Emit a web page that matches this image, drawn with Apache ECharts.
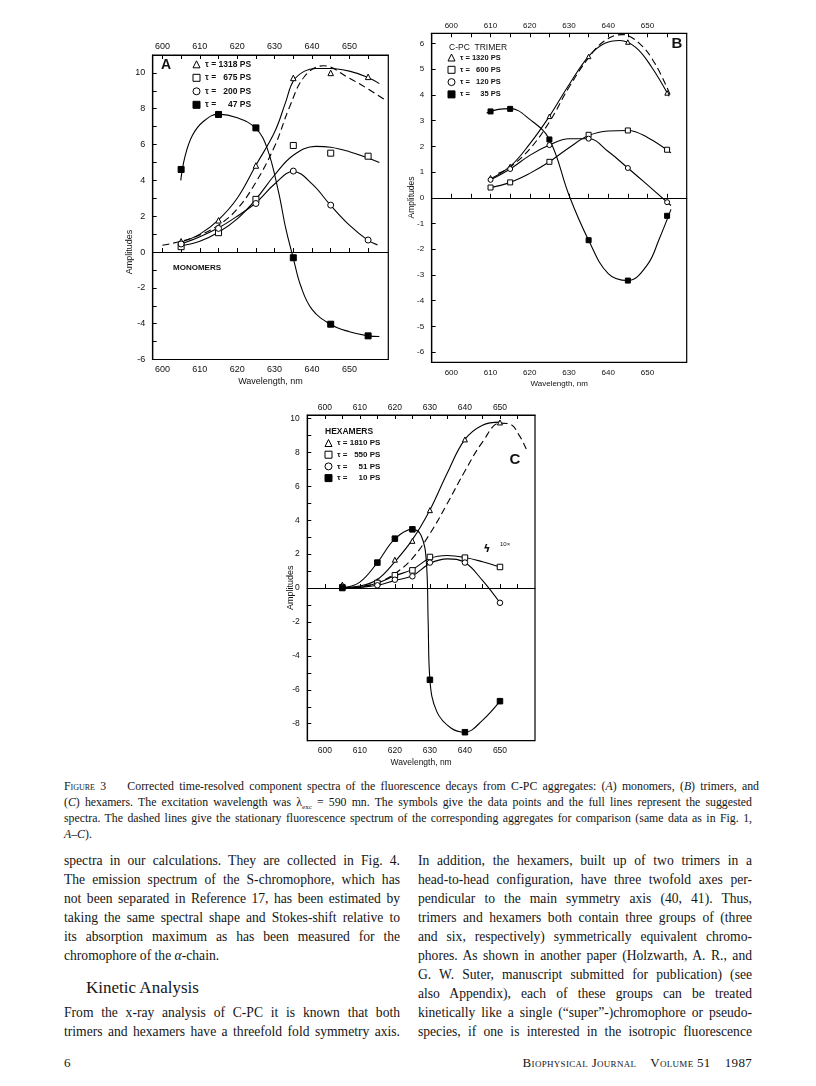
<!DOCTYPE html>
<html><head><meta charset="utf-8">
<script src="https://cdn.jsdelivr.net/npm/echarts@6/dist/echarts.min.js"></script>
<style>
html,body{margin:0;padding:0;background:#fff;}
#page{position:relative;width:816px;height:1086px;overflow:hidden;background:#fff;}
#chart{position:absolute;left:0;top:0;width:816px;height:775px;}
.ln{position:absolute;white-space:nowrap;font-family:"Liberation Serif","Times New Roman",serif;color:#151515;}
.ln span{display:inline-block;}
.sc{font-variant:small-caps;}
</style></head><body>
<div id="page"><div id="chart"></div></div>
<script>
// ---------- DATA ----------
const xLabelVals = [600, 610, 620, 630, 640, 650];
const xTickVals = [600, 605, 610, 615, 620, 625, 630, 635, 640, 645, 650, 655];

// Panel A (monomers)
const aX = [605, 615, 625, 635, 645, 655];
const aTau1318 = [0.6, 1.77, 4.83, 9.72, 10.0, 9.78];
const aTau675 = [0.3, 1.08, 2.94, 5.95, 5.52, 5.35];
const aTau200 = [0.45, 1.32, 2.71, 4.52, 2.62, 0.67];
const aTau47 = [4.61, 7.68, 6.93, -0.32, -4.03, -4.68];
const aFit1318 = [[605,0.55],[610,1.0],[615,1.8],[620,3.0],[625,4.85],[630,6.7],[633,8.4],[635,9.55],[638,10.1],[641,10.25],[645,10.25],[650,10.1],[655,9.75],[658,9.4]];
const aFit675 = [[605,0.35],[610,0.6],[615,1.1],[620,1.85],[625,2.95],[630,4.3],[635,5.4],[641,5.9],[645,5.85],[650,5.6],[655,5.25],[658,5.0]];
const aFit200 = [[605,0.45],[610,0.85],[615,1.35],[620,2.0],[625,2.75],[630,3.8],[635,4.5],[640,3.8],[645,2.6],[650,1.5],[655,0.65],[657.5,0.4]];
const aFit47 = [[604.9,4.0],[606,5.3],[608,6.5],[611,7.3],[615,7.7],[620,7.5],[625,6.9],[628,5.8],[631,3.4],[633,1.3],[635,-0.35],[637,-1.9],[640,-3.2],[645,-4.05],[650,-4.45],[655,-4.68],[658,-4.72]];
const aStationary = [[600,0.38],[605,0.6],[610,0.95],[615,1.5],[620,2.4],[625,3.9],[630,5.9],[634,8.1],[638,9.8],[643,10.4],[650,9.7],[655,9.1],[659.5,8.5]];

// Panel B (trimers)
const bX = [610, 615, 625, 635, 645, 655];
const bTau1320 = [0.78, 1.22, 3.17, 5.5, 6.06, 4.08];
const bTau600 = [0.4, 0.6, 1.4, 2.45, 2.62, 1.87];
const bTau120 = [0.7, 1.12, 2.05, 2.3, 1.16, -0.17];
const bTau35 = [3.36, 3.46, 2.27, -1.65, -3.22, -0.7];
const bFit1320 = [[609.5,0.7],[615,1.22],[620,2.1],[625,3.17],[630,4.4],[635,5.5],[639,6.0],[643,6.12],[647,5.85],[651,5.1],[655.5,3.95]];
const bFit600 = [[609.5,0.38],[615,0.6],[620,0.95],[625,1.4],[630,1.95],[635,2.42],[640,2.6],[645,2.62],[650,2.35],[656,1.75]];
const bFit120 = [[609.5,0.66],[615,1.12],[620,1.65],[625,2.05],[630,2.3],[635,2.3],[640,1.8],[645,1.16],[650,0.5],[656,-0.3]];
const bFit35 = [[609,3.3],[612,3.44],[615,3.47],[620,3.05],[625,2.27],[630,0.1],[635,-1.65],[640,-2.95],[645,-3.22],[650,-2.6],[653,-1.6],[656,-0.45]];
const bStationary = [[612,0.95],[615,1.2],[620,1.9],[625,2.95],[630,4.3],[635,5.45],[639,6.1],[643.5,6.35],[648,6.0],[652,5.2],[655.8,4.0]];

// Panel C (hexamers)
const cX = [605, 615, 620, 625, 630, 640, 650];
const cTau1810 = [0.2, 0.4, 1.67, 2.78, 4.59, 8.76, 9.76];
const cTau550 = [0.05, 0.3, 0.75, 1.04, 1.83, 1.79, 1.24];
const cTau51 = [0.06, 0.16, 0.49, 0.69, 1.5, 1.5, -0.87];
const cTau10 = [0.0, 1.5, 2.91, 3.46, -5.41, -8.5, -6.67];
const cFit1810 = [[605,0.05],[610,0.12],[615,0.5],[620,1.55],[625,2.85],[630,4.6],[635,6.8],[640,8.76],[645,9.6],[650,9.78]];
const cFit550 = [[605,0.0],[610,0.05],[615,0.3],[620,0.72],[625,1.1],[630,1.75],[635,1.92],[640,1.8],[645,1.55],[650,1.24]];
const cFit51 = [[605,0.0],[610,0.04],[615,0.16],[620,0.45],[625,0.72],[630,1.45],[635,1.72],[640,1.5],[645,0.45],[650,-0.87]];
const cFit10 = [[605,0.0],[610,0.35],[615,1.5],[620,2.9],[625,3.46],[627.5,3.1],[629,1.5],[629.5,-2.0],[630,-5.41],[632,-7.3],[636,-8.25],[640,-8.5],[645,-7.8],[650,-6.67]];
const cStationary = [[605,0.0],[610,0.08],[615,0.3],[620,0.85],[625,1.75],[630,3.2],[635,5.0],[640,6.9],[645,8.6],[650,9.72],[653,9.65],[655.5,9.0],[657.5,8.2]];

const aLegend = ['τ = 1318 PS', 'τ =   675 PS', 'τ =   200 PS', 'τ =     47 PS'];
const bLegend = ['τ = 1320 PS', 'τ =   600 PS', 'τ =   120 PS', 'τ =     35 PS'];
const cLegend = ['τ = 1810 PS', 'τ =   550 PS', 'τ =     51 PS', 'τ =     10 PS'];

// ---------- CHART ----------
const FF = '"Liberation Sans", Arial, sans-serif';
const INK = '#111';
function range(a, b, s) { const r = []; for (let v = a; v <= b + 1e-9; v += s) r.push(+v.toFixed(3)); return r; }
function zip(xs, ys) { return xs.map((x, i) => [x, ys[i]]); }

const panels = [
  { grid: {left:152.7, top:55, width:235.6, height:304.5}, xmin:597.4, xmax:660.4, ymin:-6, ymax:11,
    yLabels: range(-6,10,2), yTicks: range(-6,10,1), fs:9, botMargin:6, topMargin:4, nameGap:18,
    pts: [aTau1318, aTau675, aTau200, aTau47], px: aX, fits: [aFit1318, aFit675, aFit200, aFit47], stat: aStationary,
    legend: aLegend, sym: 6, legendPos:{left:192.5, top:59.8}, legendGap:4.5 },
  { grid: {left:431.7, top:33.3, width:255, height:329}, xmin:595, xmax:660, ymin:-6.4, ymax:6.4,
    yLabels: range(-6,6,1), yTicks: range(-6,6,1), fs:8, botMargin:6, topMargin:4, nameGap:17,
    pts: [bTau1320, bTau600, bTau120, bTau35], px: bX, fits: [bFit1320, bFit600, bFit120, bFit35], stat: bStationary,
    legend: bLegend, sym: 5, legendPos:{left:447.5, top:53}, legendGap:3.3 },
  { grid: {left:307.3, top:415, width:227.7, height:325.7}, xmin:595, xmax:660, ymin:-9, ymax:10.2,
    yLabels: range(-8,10,2), yTicks: range(-9,10,1), fs:8.5, botMargin:5.5, topMargin:2.5, nameGap:17.5,
    pts: [cTau1810, cTau550, cTau51, cTau10], px: cX, fits: [cFit1810, cFit550, cFit51, cFit10], stat: cStationary,
    legend: cLegend, sym: 5.5, legendPos:{left:324.5, top:438.5}, legendGap:2.7 }
];

const symbols = ['triangle', 'rect', 'circle', 'rect'];
const fills = ['#fff', '#fff', '#fff', '#000'];

const option = { animation:false, backgroundColor:'#fff', grid:[], xAxis:[], yAxis:[], series:[], legend:[], graphic:[] };

panels.forEach((p, i) => {
  option.grid.push(Object.assign({ show:true, borderColor:'#000', borderWidth:1.2, backgroundColor:'transparent', containLabel:false }, p.grid));
  const axLine = { show:true, lineStyle:{ color:'#000', width:1.2 } };
  const tick = { show:true, inside:true, length:4, customValues:xTickVals, lineStyle:{ color:'#000', width:1 } };
  const lab = (m) => ({ show:true, customValues:xLabelVals, margin:m, fontSize:p.fs, color:INK, fontFamily:FF });
  option.xAxis.push({ gridIndex:i, type:'value', position:'bottom', min:p.xmin, max:p.xmax,
    axisLine:axLine, axisTick:tick, axisLabel:lab(p.botMargin), splitLine:{show:false},
    name:'Wavelength, nm', nameLocation:'middle', nameGap:p.nameGap, nameTextStyle:{ fontSize:p.fs, color:INK, fontFamily:FF } });
  option.xAxis.push({ gridIndex:i, type:'value', position:'top', min:p.xmin, max:p.xmax,
    axisLine:axLine, axisTick:tick, axisLabel:lab(p.topMargin), splitLine:{show:false} });
  option.yAxis.push({ gridIndex:i, type:'value', min:p.ymin, max:p.ymax,
    axisLine:axLine, axisTick:{ show:true, inside:true, length:4, customValues:p.yTicks, lineStyle:{ color:'#000' } },
    axisLabel:{ show:true, customValues:p.yLabels, margin:7.5, fontSize:p.fs, color:INK, fontFamily:FF },
    splitLine:{show:false} });
  const xi = i * 2, yi = i;
  // fitted curves
  p.fits.forEach((f, k) => {
    const s = { type:'line', xAxisIndex:xi, yAxisIndex:yi, data:f, showSymbol:false, smooth:0.4,
      lineStyle:{ color:'#000', width:1.1 }, silent:true, z:2 };
    if (k === 0) s.markLine = { silent:true, symbol:'none', label:{show:false}, lineStyle:{ color:'#000', width:1.1, type:'solid' }, data:[{ yAxis:0 }] };
    option.series.push(s);
  });
  // stationary spectrum (dashed)
  option.series.push({ type:'line', xAxisIndex:xi, yAxisIndex:yi, data:p.stat, showSymbol:false, smooth:0.4,
    lineStyle:{ color:'#000', width:1.1, type:[7,4] }, silent:true, z:2 });
  // data points
  p.pts.forEach((ys, k) => {
    option.series.push({ type:'scatter', name:p.legend[k], xAxisIndex:xi, yAxisIndex:yi, data:zip(p.px, ys),
      symbol:symbols[k], symbolSize: k === 0 ? p.sym - 0.5 : p.sym,
      itemStyle:{ color:fills[k], borderColor:'#000', borderWidth:1, opacity:1 }, z:3 });
  });
  option.legend.push(Object.assign({ orient:'vertical', padding:0, itemWidth:7, itemHeight:7, itemGap:p.legendGap,
    selectedMode:false, textStyle:{ fontSize:p.fs - 0.5, fontWeight:'bold', lineHeight:9, color:INK, fontFamily:FF },
    data:p.legend.map((n, k) => ({ name:n, icon:symbols[k],
      itemStyle:{ color:fills[k], borderColor:'#000', borderWidth:1 } })) }, p.legendPos));
});

function txt(x, y, text, size, opts) {
  return Object.assign({ type:'text', x:x, y:y, silent:true,
    style:Object.assign({ text:text, fill:INK, font:size, align:'left', verticalAlign:'middle' }, (opts && opts.style) || {}) },
    (opts && opts.el) || {});
}
option.graphic = [
  txt(166, 65, 'A', 'bold 14px ' + FF, { style:{ align:'center' } }),
  txt(173, 268, 'MONOMERS', 'bold 8px ' + FF),
  txt(130, 252, 'Amplitudes', '9px ' + FF, { style:{ align:'center' }, el:{ rotation:Math.PI / 2 } }),
  txt(449, 47.3, 'C-PC  TRIMER', '8.5px ' + FF),
  txt(677, 43.5, 'B', 'bold 15px ' + FF, { style:{ align:'center' } }),
  txt(411.7, 197.5, 'Amplitudes', '8.5px ' + FF, { style:{ align:'center' }, el:{ rotation:Math.PI / 2 } }),
  txt(325, 431.7, 'HEXAMERS', 'bold 8.5px ' + FF),
  txt(515, 460, 'C', 'bold 15px ' + FF, { style:{ align:'center' } }),
  txt(290.7, 587.7, 'Amplitudes', '9px ' + FF, { style:{ align:'center' }, el:{ rotation:Math.PI / 2 } }),
  txt(487, 549, 'ϟ', 'bold 11px "DejaVu Sans", sans-serif', { style:{ align:'center' } }),
  txt(500, 544, '10×', '6px ' + FF)
];

const chart = echarts.init(document.getElementById('chart'), null, { renderer:'canvas' });
chart.setOption(option);

// ---------- TEXT ----------
const page = document.getElementById('page');
function line(html, x, yc, w, size, justify, style) {
  const d = document.createElement('div');
  d.className = 'ln';
  d.style.left = x + 'px';
  d.style.top = (yc - size * 0.62) + 'px';
  d.style.fontSize = size + 'px';
  d.style.lineHeight = (size * 1.2) + 'px';
  if (style) d.setAttribute('style', d.getAttribute('style') + ';' + style);
  const s = document.createElement('span');
  s.innerHTML = html;
  d.appendChild(s);
  page.appendChild(d);
  if (w) {
    let nat = s.getBoundingClientRect().width;
    const plain = s.textContent;
    if (nat > w) {
      s.style.letterSpacing = ((w - nat) / plain.length) + 'px';
      nat = s.getBoundingClientRect().width;
    }
    if (justify) {
      const sp = (plain.match(/ /g) || []).length;
      if (sp > 0 && nat < w) s.style.wordSpacing = ((w - nat) / sp) + 'px';
    }
  }
}

const capLines = [
  '<span class="sc">Figure</span> 3&nbsp;&nbsp;&nbsp; Corrected time-resolved component spectra of the fluorescence decays from C-PC aggregates: (<i>A</i>) monomers, (<i>B</i>) trimers, and',
  '(<i>C</i>) hexamers. The excitation wavelength was λ<sub style="font-size:7px">exc</sub> = 590 mn. The symbols give the data points and the full lines represent the suggested',
  'spectra. The dashed lines give the stationary fluorescence spectrum of the corresponding aggregates for comparison (same data as in Fig. 1,',
  '<i>A–C</i>).'
];
capLines.forEach((t, i) => line(t, 64, 786 + i * 16, 688, 11.8, i < 3));

const leftCol = [
  'spectra in our calculations. They are collected in Fig. 4.',
  'The emission spectrum of the S-chromophore, which has',
  'not been separated in Reference 17, has been estimated by',
  'taking the same spectral shape and Stokes-shift relative to',
  'its absorption maximum as has been measured for the',
  'chromophore of the <i>α</i>-chain.'
];
const rightCol = [
  'In addition, the hexamers, built up of two trimers in a',
  'head-to-head configuration, have three twofold axes per-',
  'pendicular to the main symmetry axis (40, 41). Thus,',
  'trimers and hexamers both contain three groups of (three',
  'and six, respectively) symmetrically equivalent chromo-',
  'phores. As shown in another paper (Holzwarth, A. R., and',
  'G. W. Suter, manuscript submitted for publication) (see',
  'also Appendix), each of these groups can be treated',
  'kinetically like a single (“super”-)chromophore or pseudo-',
  'species, if one is interested in the isotropic fluorescence'
];
const leftCol2 = [
  'From the x-ray analysis of C-PC it is known that both',
  'trimers and hexamers have a threefold fold symmetry axis.'
];
const LS = 19.1;
leftCol.forEach((t, i) => line(t, 64, 861 + i * LS, 336, 13.6, i < leftCol.length - 1));
line('Kinetic Analysis', 86, 989, 0, 17, false);
leftCol2.forEach((t, i) => line(t, 64, 861 + (8 + i) * LS, 336, 13.6, true));
rightCol.forEach((t, i) => line(t, 418, 861 + i * LS, 334, 13.6, true));
line('6', 64, 1063, 0, 13, false);
const foot = document.createElement('div');
foot.className = 'ln sc';
foot.style.cssText = 'right:64px;top:1055px;font-size:13px;line-height:16px;letter-spacing:0.3px;';
foot.innerHTML = 'Biophysical Journal&nbsp;&nbsp;&nbsp; Volume 51&nbsp;&nbsp;&nbsp; 1987';
page.appendChild(foot);
</script>
</body></html>
